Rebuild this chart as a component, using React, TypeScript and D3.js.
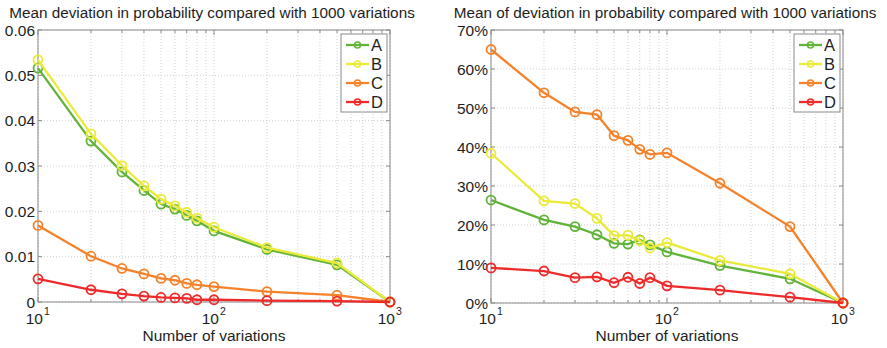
import React from "react";
import * as d3 from "d3";

const xValues = [10, 20, 30, 40, 50, 60, 70, 80, 100, 200, 500, 1000];
const seriesNames = ["A", "B", "C", "D"];
const seriesColors = ["#62b33a", "#eaea3a", "#f5822a", "#ee2a2a"];

const leftA = [0.0516, 0.0355, 0.0287, 0.0246, 0.0216, 0.0205, 0.0191, 0.0179, 0.0157, 0.0116, 0.0082, 0];
const leftB = [0.0534, 0.0371, 0.0301, 0.0256, 0.0227, 0.0212, 0.0198, 0.0185, 0.0165, 0.0120, 0.0086, 0];
const leftC = [0.0169, 0.0101, 0.0074, 0.0062, 0.0052, 0.0048, 0.0041, 0.0038, 0.0034, 0.0023, 0.0015, 0];
const leftD = [0.0051, 0.0027, 0.0018, 0.0013, 0.0010, 0.0009, 0.0008, 0.0005, 0.0005, 0.0003, 0.0002, 0];

const rightA = [26.4, 21.3, 19.6, 17.5, 15.3, 15.1, 16.2, 14.9, 13.1, 9.6, 6.2, 0];
const rightB = [38.4, 26.2, 25.5, 21.7, 17.3, 17.4, 16.0, 14.1, 15.5, 10.9, 7.5, 0];
const rightC = [65.0, 53.9, 49.0, 48.3, 42.9, 41.7, 39.4, 38.1, 38.5, 30.7, 19.6, 0];
const rightD = [9.0, 8.2, 6.5, 6.7, 5.2, 6.6, 5.0, 6.5, 4.4, 3.3, 1.5, 0];

const leftYTicks = [0, 0.01, 0.02, 0.03, 0.04, 0.05, 0.06];
const leftYLabels = ["0", "0.01", "0.02", "0.03", "0.04", "0.05", "0.06"];
const rightYTicks = [0, 10, 20, 30, 40, 50, 60, 70];
const rightYLabels = ["0%", "10%", "20%", "30%", "40%", "50%", "60%", "70%"];
const xMajor = [10, 100, 1000];
const xMajorExp = ["1", "2", "3"];
const xMinor = [20, 30, 40, 50, 60, 70, 80, 90, 200, 300, 400, 500, 600, 700, 800, 900];

const leftTitle = "Mean deviation in probability compared with 1000 variations";
const rightTitle = "Mean of deviation in probability compared with 1000 variations";
const xLabel = "Number of variations";

const FONT = "'Liberation Sans', Arial, sans-serif";
const TXT = "#1e1e1e";

type PanelProps = {
  x0: number; x1: number; y0: number; y1: number;
  yMax: number; yTicks: number[]; yLabels: string[];
  data: number[][]; title: string;
};

function Panel({ x0, x1, y0, y1, yMax, yTicks, yLabels, data, title }: PanelProps) {
  const xs = d3.scaleLog().domain([10, 1000]).range([x0, x1]);
  const ys = d3.scaleLinear().domain([0, yMax]).range([y1, y0]);
  const line = d3.line<[number, number]>().x(d => xs(d[0])).y(d => ys(d[1]));
  const gridColor = "#c4c4c4";
  const axisColor = "#8a8a8a";
  const cx = (x0 + x1) / 2;
  const lx0 = x1 - 49, ly0 = y0 + 4, lw = 46, lh = 78;
  return (
    <g>
      <text x={cx - 2} y={18} textAnchor="middle" fontSize={15.3} fontFamily={FONT} fill={TXT}>{title}</text>
      {xMinor.concat(xMajor).map((v, i) => (
        <line key={"gx" + i} x1={xs(v)} x2={xs(v)} y1={y0} y2={y1} stroke={gridColor} strokeWidth={0.8} strokeDasharray="1,2" />
      ))}
      {yTicks.map((v, i) => (
        <line key={"gy" + i} x1={x0} x2={x1} y1={ys(v)} y2={ys(v)} stroke={gridColor} strokeWidth={0.8} strokeDasharray="1,2" />
      ))}
      {yTicks.map((v, i) => (
        <g key={"ty" + i}>
          <line x1={x0} x2={x0 + 4} y1={ys(v)} y2={ys(v)} stroke={axisColor} />
          <line x1={x1} x2={x1 - 4} y1={ys(v)} y2={ys(v)} stroke={axisColor} />
          <text x={x0 - 3} y={ys(v) + 5.5} textAnchor="end" fontSize={15.5} fontFamily={FONT} fill={TXT}>{yLabels[i]}</text>
        </g>
      ))}
      {xMajor.map((v, i) => (
        <g key={"tx" + i}>
          <line x1={xs(v)} x2={xs(v)} y1={y1} y2={y1 - 5} stroke={axisColor} />
          <line x1={xs(v)} x2={xs(v)} y1={y0} y2={y0 + 5} stroke={axisColor} />
          <text x={xs(v) + 5} y={324} textAnchor="end" fontSize={15.5} fontFamily={FONT} fill={TXT}>10</text>
          <text x={xs(v) + 6} y={315} textAnchor="start" fontSize={10.5} fontFamily={FONT} fill={TXT}>{xMajorExp[i]}</text>
        </g>
      ))}
      {xMinor.map((v, i) => (
        <g key={"tm" + i}>
          <line x1={xs(v)} x2={xs(v)} y1={y1} y2={y1 - 3} stroke={axisColor} />
          <line x1={xs(v)} x2={xs(v)} y1={y0} y2={y0 + 3} stroke={axisColor} />
        </g>
      ))}
      <rect x={x0} y={y0} width={x1 - x0} height={y1 - y0} fill="none" stroke={axisColor} strokeWidth={1} />
      <text x={cx} y={340.5} textAnchor="middle" fontSize={15.5} fontFamily={FONT} fill={TXT}>{xLabel}</text>
      {data.map((vals, si) => {
        const pts: [number, number][] = xValues.map((x, i) => [x, vals[i]]);
        return (
          <g key={"s" + si}>
            <path d={line(pts) || ""} fill="none" stroke={seriesColors[si]} strokeWidth={2.3} />
            {pts.map((p, i) => (
              <circle key={i} cx={xs(p[0])} cy={ys(p[1])} r={4.5} fill="none" stroke={seriesColors[si]} strokeWidth={1.8} />
            ))}
          </g>
        );
      })}
      <rect x={lx0} y={ly0} width={lw} height={lh} fill="#fff" stroke={axisColor} strokeWidth={1} />
      {seriesNames.map((n, i) => {
        const yy = ly0 + 11 + i * 19;
        return (
          <g key={"l" + i}>
            <line x1={lx0 + 5} x2={lx0 + 28} y1={yy} y2={yy} stroke={seriesColors[i]} strokeWidth={2.3} />
            <circle cx={lx0 + 16.5} cy={yy} r={3} fill="none" stroke={seriesColors[i]} strokeWidth={1.6} />
            <text x={lx0 + 30} y={yy + 6} fontSize={16.5} fontFamily={FONT} fill={TXT}>{n}</text>
          </g>
        );
      })}
    </g>
  );
}

export default function App() {
  return (
    <svg width={887} height={348} style={{ position: "absolute", left: 0, top: 0, background: "#fff" }}>
      <rect x={0} y={0} width={887} height={348} fill="#fff" />
      <Panel x0={38} x1={390} y0={30} y1={302} yMax={0.06} yTicks={leftYTicks} yLabels={leftYLabels}
        data={[leftA, leftB, leftC, leftD]} title={leftTitle} />
      <Panel x0={491} x1={843} y0={30} y1={303} yMax={70} yTicks={rightYTicks} yLabels={rightYLabels}
        data={[rightA, rightB, rightC, rightD]} title={rightTitle} />
    </svg>
  );
}
